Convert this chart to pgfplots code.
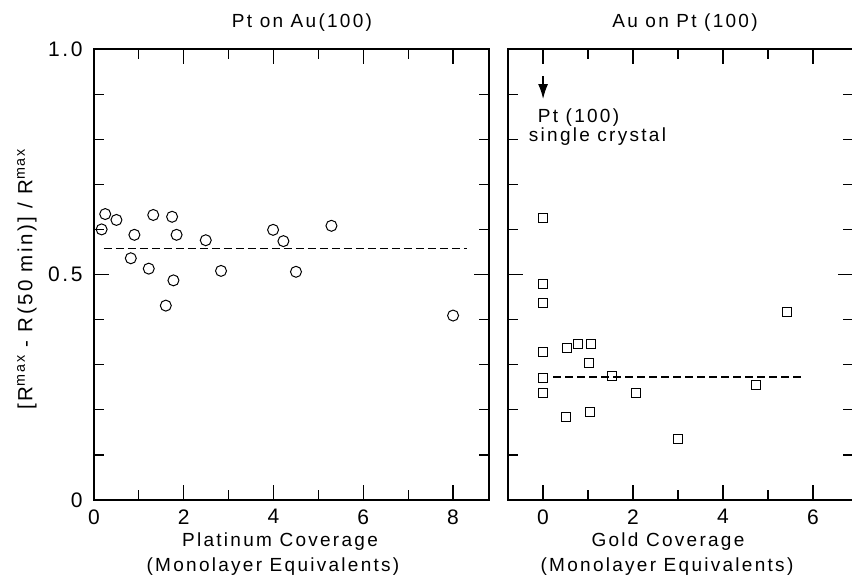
\documentclass[border=0pt]{standalone}
\usepackage{pgfplots}
\pgfplotsset{compat=1.18}
\usepackage{fontspec}
\setmainfont[LetterSpace=12]{Liberation Sans}
\usetikzlibrary{arrows.meta}
\newcommand\lbl{\fontsize{19}{22}\selectfont}
\newcommand\tkl{\fontsize{21}{24}\selectfont}

\pgfplotstableread{
x y
0.17 0.600
0.25 0.634
0.50 0.621
0.90 0.588
0.82 0.536
1.22 0.513
1.32 0.632
1.74 0.628
1.84 0.588
1.77 0.487
1.60 0.431
2.49 0.576
2.83 0.508
3.99 0.599
4.22 0.574
4.50 0.506
5.29 0.608
8.00 0.409
}\ptonau

\pgfplotstableread{
x y
0.00 0.625
0.00 0.480
0.00 0.436
0.00 0.329
0.00 0.271
0.00 0.237
0.53 0.336
0.78 0.347
1.07 0.347
1.02 0.304
0.51 0.185
1.04 0.196
1.53 0.275
2.07 0.238
3.01 0.135
4.73 0.256
5.43 0.416
}\auonpt

\pgfplotsset{
  panel/.style={
    scale only axis,
    height=451pt,
    ymin=0, ymax=1,
    axis line style={line width=1.4pt},
    tick style={line width=1.2pt, black},
    tick align=inside,
    major tick length=15pt,
    minor tick length=10pt,
    ytick={0,0.5,1},
    minor ytick={0.1,0.2,0.3,0.4,0.6,0.7,0.8,0.9},
    tick label style={font=\tkl},
    xticklabel style={yshift=-6pt},
    yticklabel style={xshift=-8pt},
    /pgf/number format/assume math mode=true,
  },
}

\begin{document}
\begin{tikzpicture}[x=1pt,y=1pt]
\path[use as bounding box] (0,0) rectangle (852,-578);

\begin{axis}[panel,
  at={(94pt,-500pt)}, anchor=south west,
  width=395pt,
  xmin=0, xmax=8.8,
  xtick={0,2,4,6,8}, minor xtick={1,3,5,7},
  yticklabels={0,0.5,1.0},
]
\addplot[only marks, mark=o, mark size=5.5pt, mark options={line width=1pt}] table {\ptonau};
\addplot[line width=1.4pt, dash pattern=on 8pt off 4pt] coordinates {(0.22,0.557) (8.3,0.557)};
\end{axis}

\begin{axis}[panel,
  at={(508pt,-500pt)}, anchor=south west,
  width=345pt,
  xmin=-0.78, xmax=6.89,
  xtick={0,2,4,6}, minor xtick={1,3,5},
  yticklabels={},
]
\addplot[only marks, mark=square, mark size=4.5pt, mark options={line width=1pt}] table {\auonpt};
\addplot[line width=1.4pt, dash pattern=on 8pt off 4pt] coordinates {(0.23,0.273) (5.73,0.273)};
\draw[line width=1.5pt, -{Latex[length=15pt,width=10pt]}] (axis cs:0,0.94) -- (axis cs:0,0.889);
\node[font=\lbl, anchor=west, inner sep=0pt] at (axis cs:-0.12,0.847) {Pt (100)};
\node[font=\lbl, anchor=west, inner sep=0pt] at (axis cs:-0.32,0.805) {single crystal};
\end{axis}

\node[font=\lbl] at (302,-23) {Pt on Au(100)};
\node[font=\lbl] at (685,-23) {Au on Pt (100)};
\node[font=\lbl] at (280,-542) {Platinum Coverage};
\node[font=\lbl] at (273,-567) {(Monolayer Equivalents)};
\node[font=\lbl] at (668,-542) {Gold Coverage};
\node[font=\lbl] at (667,-567) {(Monolayer Equivalents)};
\node[font=\fontsize{20.5}{24}\selectfont, rotate=90] at (27,-279) {[R\textsuperscript{max} - R(50 min)] / R\textsuperscript{max}};
\end{tikzpicture}
\end{document}
